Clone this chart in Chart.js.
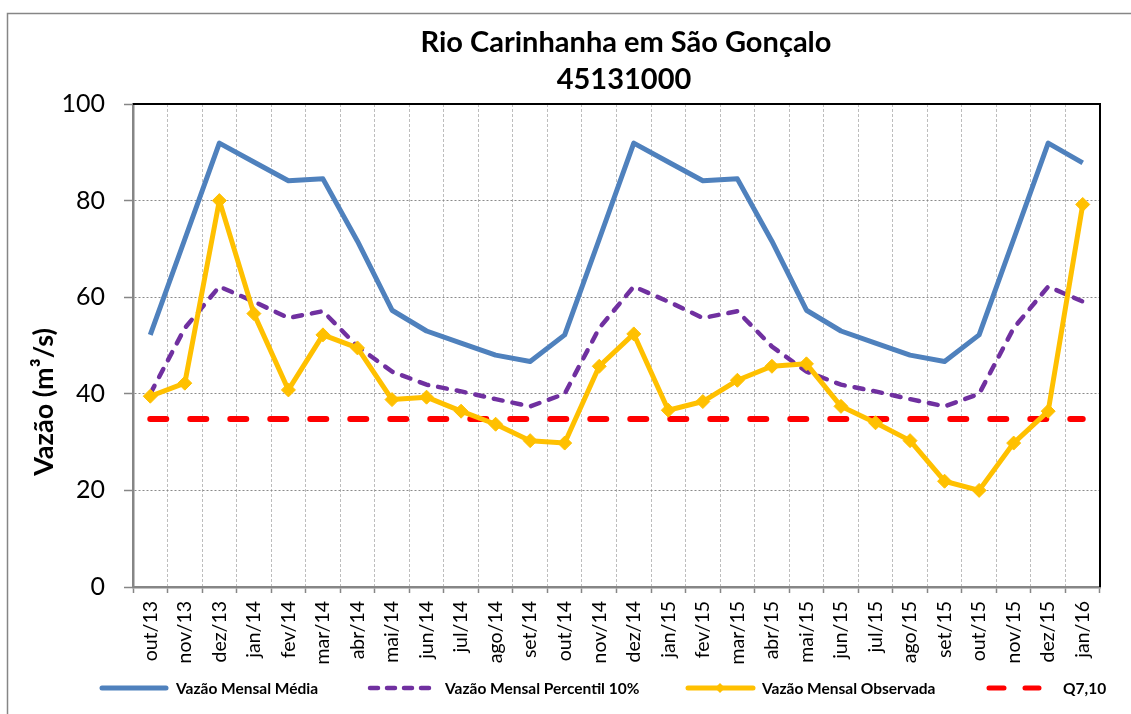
<!DOCTYPE html>
<html>
<head>
<meta charset="utf-8">
<script src="https://cdn.jsdelivr.net/npm/chart.js@4/dist/chart.umd.min.js"></script>
<style>
  html, body { margin: 0; padding: 0; background: #fff; }
  canvas { display: block; }
</style>
</head>
<body>
<canvas id="myChart" width="1131" height="714"></canvas>
<script>
// dados
const meses = ['out/13','nov/13','dez/13','jan/14','fev/14','mar/14','abr/14','mai/14','jun/14','jul/14','ago/14','set/14',
  'out/14','nov/14','dez/14','jan/15','fev/15','mar/15','abr/15','mai/15','jun/15','jul/15','ago/15','set/15',
  'out/15','nov/15','dez/15','jan/16'];

const vazaoMedia = [52.2, 72.0, 91.9, 88.0, 84.1, 84.5, 71.6, 57.3, 53.0, 50.5, 48.0, 46.7,
  52.2, 72.0, 91.9, 88.0, 84.1, 84.5, 71.6, 57.3, 53.0, 50.5, 48.0, 46.7,
  52.2, 72.0, 91.9, 87.8];

const vazaoP10 = [40.0, 53.6, 62.2, 59.1, 55.7, 57.1, 49.8, 44.6, 41.9, 40.5, 38.9, 37.4,
  40.0, 53.6, 62.2, 59.1, 55.7, 57.1, 49.8, 44.6, 41.9, 40.5, 38.9, 37.4,
  40.0, 53.6, 62.2, 59.1];

const vazaoObs = [39.5, 42.2, 80.0, 56.6, 40.8, 52.2, 49.5, 38.8, 39.3, 36.4, 33.7, 30.3,
  29.8, 45.7, 52.4, 36.6, 38.4, 42.8, 45.7, 46.2, 37.4, 34.0, 30.3, 21.9,
  20.0, 29.8, 36.4, 79.2];

const q710 = [34.8, 34.8, 34.8, 34.8, 34.8, 34.8, 34.8, 34.8, 34.8, 34.8, 34.8, 34.8,
  34.8, 34.8, 34.8, 34.8, 34.8, 34.8, 34.8, 34.8, 34.8, 34.8, 34.8, 34.8,
  34.8, 34.8, 34.8, 34.8];

const yMin = 0;
const yMax = 100;
const yStep = 20;

const titulo = ['Rio Carinhanha em São Gonçalo', '45131000'];
const tituloEixoY = 'Vazão (m³/s)';
const legendas = ['Vazão Mensal Média', 'Vazão Mensal Percentil 10%', 'Vazão Mensal Observada', 'Q7,10'];

const AZUL = '#4F81BD';
const ROXO = '#7030A0';
const LARANJA = '#FFC000';
const VERMELHO = '#FF0000';
const CINZA = '#868686';

// moldura, títulos e legenda
const molduraPlugin = {
  id: 'moldura',
  afterDraw(chart) {
    const ctx = chart.ctx;
    const area = chart.chartArea;
    ctx.save();

    // borda externa
    ctx.strokeStyle = CINZA;
    ctx.lineWidth = 1.5;
    ctx.beginPath();
    ctx.moveTo(7.5, 720);
    ctx.lineTo(7.5, 13.5);
    ctx.lineTo(1140, 13.5);
    ctx.stroke();

    // borda superior e direita da área do gráfico
    ctx.strokeStyle = '#000';
    ctx.lineWidth = 2;
    ctx.beginPath();
    ctx.moveTo(area.left, area.top);
    ctx.lineTo(area.right, area.top);
    ctx.lineTo(area.right, area.bottom);
    ctx.stroke();

    // título
    ctx.fillStyle = '#000';
    ctx.textAlign = 'center';
    ctx.textBaseline = 'middle';
    ctx.font = 'bold 29px Lato';
    ctx.fillText(titulo[0], 626, 43);
    ctx.fillText(titulo[1], 624, 80);

    // título do eixo Y
    ctx.save();
    ctx.translate(44, 402);
    ctx.rotate(-Math.PI / 2);
    ctx.font = 'bold 27px Lato';
    ctx.fillText(tituloEixoY, 0, 0);
    ctx.restore();

    // legenda
    const ly = 688;
    ctx.lineCap = 'round';
    ctx.textAlign = 'left';
    ctx.font = 'bold 15.5px Lato';

    ctx.strokeStyle = AZUL;
    ctx.lineWidth = 5;
    ctx.setLineDash([]);
    ctx.beginPath(); ctx.moveTo(102, ly); ctx.lineTo(166, ly); ctx.stroke();
    ctx.fillText(legendas[0], 176, ly + 1);

    ctx.strokeStyle = ROXO;
    ctx.lineWidth = 4.5;
    ctx.setLineDash([8, 9]);
    ctx.beginPath(); ctx.moveTo(370, ly); ctx.lineTo(432, ly); ctx.stroke();
    ctx.setLineDash([]);
    ctx.fillText(legendas[1], 445, ly + 1);

    ctx.strokeStyle = LARANJA;
    ctx.fillStyle = LARANJA;
    ctx.lineWidth = 5;
    ctx.beginPath(); ctx.moveTo(688, ly); ctx.lineTo(753, ly); ctx.stroke();
    ctx.beginPath();
    ctx.moveTo(720, ly - 5); ctx.lineTo(725, ly); ctx.lineTo(720, ly + 5); ctx.lineTo(715, ly);
    ctx.closePath(); ctx.fill();
    ctx.fillStyle = '#000';
    ctx.fillText(legendas[2], 762, ly + 1);

    ctx.strokeStyle = VERMELHO;
    ctx.lineWidth = 5;
    ctx.setLineDash([15, 21]);
    ctx.beginPath(); ctx.moveTo(989, ly); ctx.lineTo(1039, ly); ctx.stroke();
    ctx.setLineDash([]);
    ctx.fillText(legendas[3], 1063, ly + 1);

    ctx.restore();
  }
};

function desenhar() {
  new Chart(document.getElementById('myChart'), {
    type: 'line',
    data: {
      labels: meses,
      datasets: [
        {
          label: legendas[0],
          data: vazaoMedia,
          borderColor: AZUL,
          borderWidth: 5,
          borderJoinStyle: 'round',
          pointRadius: 0,
          tension: 0,
          order: 3
        },
        {
          label: legendas[1],
          data: vazaoP10,
          borderColor: ROXO,
          borderWidth: 4.5,
          borderDash: [9, 10],
          borderCapStyle: 'round',
          pointRadius: 0,
          tension: 0,
          order: 2
        },
        {
          label: legendas[2],
          data: vazaoObs,
          borderColor: LARANJA,
          backgroundColor: LARANJA,
          borderWidth: 5,
          borderJoinStyle: 'round',
          pointStyle: 'rectRot',
          pointRadius: 7,
          pointBorderWidth: 1,
          pointBackgroundColor: LARANJA,
          pointBorderColor: LARANJA,
          tension: 0,
          order: 0
        },
        {
          label: legendas[3],
          data: q710,
          borderColor: VERMELHO,
          borderWidth: 6,
          borderDash: [16, 24],
          borderCapStyle: 'round',
          pointRadius: 0,
          tension: 0,
          order: 1
        }
      ]
    },
    options: {
      responsive: false,
      animation: false,
      layout: { padding: { left: 8, top: 104, right: 31, bottom: 47 } },
      plugins: {
        legend: { display: false },
        title: { display: false },
        tooltip: { enabled: false }
      },
      scales: {
        x: {
          offset: true,
          grid: {
            offset: true,
            color: '#bdbdbd',
            lineWidth: 1,
            tickColor: CINZA,
            tickLength: 6,
            tickWidth: 1.5
          },
          border: { color: CINZA, width: 2.5, dash: [3, 2] },
          ticks: {
            autoSkip: false,
            maxRotation: 90,
            minRotation: 90,
            padding: 8,
            color: '#000',
            font: { family: 'Lato', size: 19.5 }
          },
          afterFit(scale) { scale.height = 80; }
        },
        y: {
          min: yMin,
          max: yMax,
          grid: {
            color: (c) => (c.tick && (c.tick.value === yMin || c.tick.value === yMax)) ? 'rgba(0,0,0,0)' : '#8a8a8a',
            lineWidth: 1,
            tickColor: CINZA,
            tickLength: 9,
            tickWidth: 1.5
          },
          border: { color: CINZA, width: 2.5, dash: [2, 2] },
          ticks: {
            stepSize: yStep,
            padding: 19,
            color: '#000',
            font: { family: 'Lato', size: 25 }
          },
          afterFit(scale) { scale.width = 125; }
        }
      }
    },
    plugins: [molduraPlugin]
  });
}

Promise.all([
  document.fonts.load('bold 29px Lato'),
  document.fonts.load('25px Lato')
]).then(desenhar, desenhar);
</script>
</body>
</html>
